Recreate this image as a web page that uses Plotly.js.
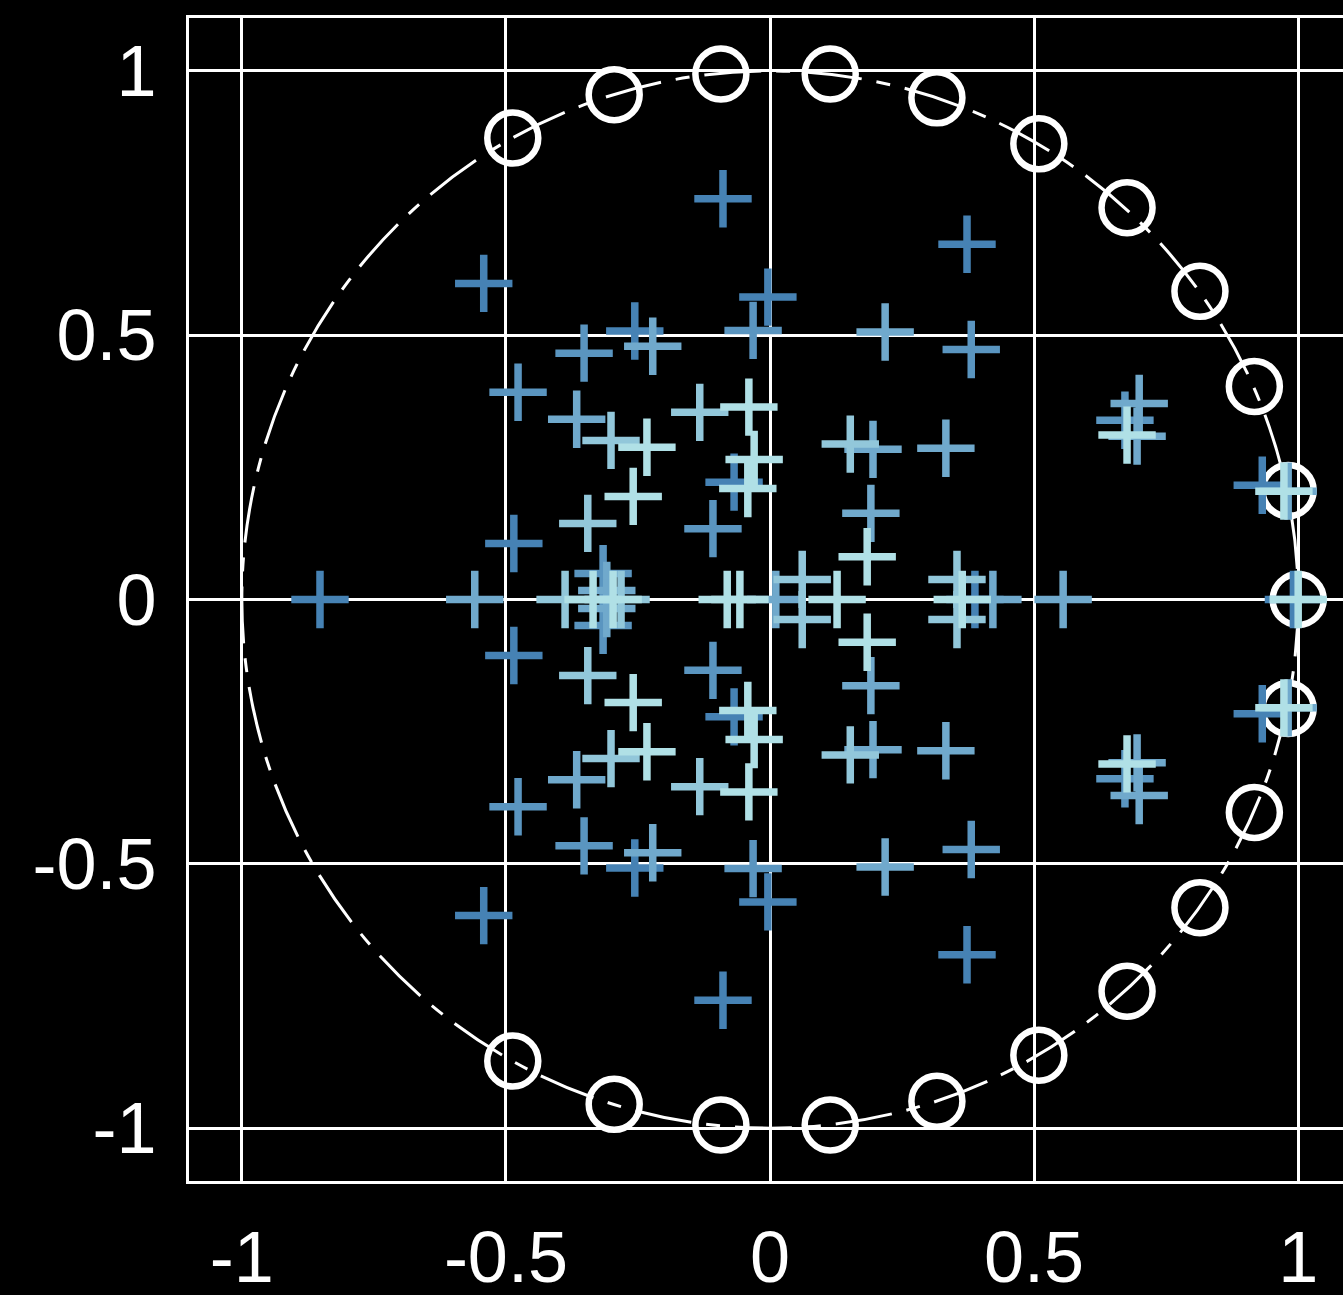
<!DOCTYPE html>
<html>
<head>
<meta charset="utf-8">
<script src="https://cdn.plot.ly/plotly-3.0.1.min.js"></script>
<style>
html, body { margin: 0; padding: 0; background: #000; overflow: hidden; }
#chart { width: 1360px; height: 1295px; }
</style>
</head>
<body>
<div id="chart"></div>
<script>
// Zeros (on the unit circle)
const zerosRe = [1.000, 0.981, 0.917, 0.814, 0.676, 0.509, 0.316, 0.114, -0.093, -0.295, -0.487,
                 0.981, 0.917, 0.814, 0.676, 0.509, 0.316, 0.114, -0.093, -0.295, -0.487];
const zerosIm = [0.000, 0.206, 0.403, 0.583, 0.741, 0.862, 0.949, 0.994, 0.994, 0.955, 0.873,
                 -0.206, -0.403, -0.583, -0.741, -0.862, -0.949, -0.994, -0.994, -0.955, -0.873];

// Poles, group A (darkest)
const polesARe = [-0.089, 0.373, -0.542, -0.004, -0.256, -0.068, -0.485, 0.932,
                  -0.089, 0.373, -0.542, -0.004, -0.256, -0.068, -0.485, 0.932,
                  -0.852, 0.388, 0.991];
const polesAIm = [0.758, 0.672, 0.598, 0.572, 0.508, 0.222, 0.106, 0.216,
                  -0.758, -0.672, -0.598, -0.572, -0.508, -0.222, -0.106, -0.216,
                  0, 0, 0];
// Poles, group B
const polesBRe = [-0.352, -0.032, -0.477, -0.108, -0.316, 0.381, 0.672,
                  -0.352, -0.032, -0.477, -0.108, -0.316, 0.381, 0.672];
const polesBIm = [0.466, 0.509, 0.392, 0.134, 0.049, 0.473, 0.339,
                  -0.466, -0.509, -0.392, -0.134, -0.049, -0.473, -0.339];
// Poles, group C
const polesCRe = [-0.222, 0.218, -0.366, 0.195, 0.333, 0.191, -0.309, 0.981, 0.699, 0.695,
                  -0.222, 0.218, -0.366, 0.195, 0.333, 0.191, -0.309, 0.981, 0.699, 0.695,
                  -0.559, 0.011, 0.422, 0.555];
const polesCIm = [0.479, 0.506, 0.341, 0.284, 0.286, 0.163, 0.017, 0.205, 0.371, 0.309,
                  -0.479, -0.506, -0.341, -0.284, -0.286, -0.163, -0.017, -0.205, -0.371, -0.309,
                  0, 0, 0, 0];
// Poles, group D
const polesDRe = [-0.301, -0.133, 0.152, -0.345, 0.061, 0.354,
                  -0.301, -0.133, 0.152, -0.345, 0.061, 0.354,
                  -0.388, -0.282];
const polesDIm = [0.301, 0.354, 0.294, 0.144, 0.038, 0.038,
                  -0.301, -0.354, -0.294, -0.144, -0.038, -0.038,
                  0, 0];
// Poles, group E (lightest)
const polesERe = [-0.233, -0.040, -0.030, -0.042, -0.259, 0.184, 0.676, 0.973,
                  -0.233, -0.040, -0.030, -0.042, -0.259, 0.184, 0.676, 0.973,
                  -0.335, -0.297, -0.081, -0.057, 0.127, 0.364, 1.000];
const polesEIm = [0.288, 0.364, 0.265, 0.210, 0.195, 0.081, 0.311, 0.205,
                  -0.288, -0.364, -0.265, -0.210, -0.195, -0.081, -0.311, -0.205,
                  0, 0, 0, 0, 0, 0, 0];

const tickVals = [-1, -0.5, 0, 0.5, 1];
const tickText = ['-1', '-0.5', '0', '0.5', '1'];

const groupColors = ['#4682B4', '#5A95C0', '#70A9CC', '#92C7DA', '#B0E0E6'];
const poleGroups = [
  [polesARe, polesAIm], [polesBRe, polesBIm], [polesCRe, polesCIm],
  [polesDRe, polesDIm], [polesERe, polesEIm]
];

const traces = [];
traces.push({
  x: zerosRe, y: zerosIm, type: 'scatter', mode: 'markers', name: 'zeros',
  marker: { symbol: 'circle-open', size: 51, color: '#ffffff', line: { width: 6.5, color: '#ffffff' } },
  hoverinfo: 'x+y'
});
poleGroups.forEach(function (g, i) {
  traces.push({
    x: g[0], y: g[1], type: 'scatter', mode: 'markers', name: 'poles ' + (i + 1),
    marker: { symbol: 'cross-thin', size: 41, color: groupColors[i],
              line: { width: 7.5, color: groupColors[i] } },
    hoverinfo: 'x+y'
  });
});

const axisCommon = {
  range: [-1.1, 1.1],
  tickvals: tickVals, ticktext: tickText,
  showgrid: true, gridcolor: '#ffffff', gridwidth: 3,
  zeroline: false,
  showline: true, linecolor: '#ffffff', linewidth: 3, mirror: true,
  ticks: '',
  tickfont: { family: 'Liberation Sans, Arial, Helvetica, sans-serif', size: 72, color: '#ffffff' },
  fixedrange: true
};

const layout = {
  width: 1360, height: 1295,
  margin: { l: 189, r: 9, t: 18, b: 114 },
  paper_bgcolor: '#000000', plot_bgcolor: '#000000',
  showlegend: false,
  xaxis: Object.assign({}, axisCommon, { ticklabelstandoff: 12 }),
  yaxis: Object.assign({}, axisCommon, { ticklabelstandoff: 15 }),
  shapes: [{
    type: 'circle', xref: 'x', yref: 'y', x0: -1, x1: 1, y0: -1, y1: 1,
    layer: 'between',
    line: { color: '#ffffff', width: 3, dash: '57px,15px,14px,15px' }
  }]
};

Plotly.newPlot('chart', traces, layout, { displayModeBar: false, staticPlot: true });
</script>
</body>
</html>
